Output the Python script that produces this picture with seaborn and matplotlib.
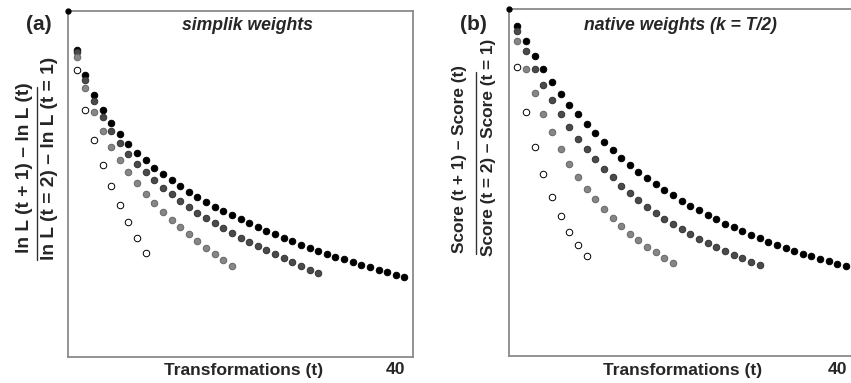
import numpy as np
import pandas as pd
import matplotlib
matplotlib.use("Agg")
import matplotlib.pyplot as plt
import seaborn as sns
from matplotlib.lines import Line2D

# runs of T transformations, one point per step t = 1 .. T-1
runs = [40, 30, 20, 10]
face = {40: "#000000", 30: "#4a4a4a", 20: "#868686", 10: "#ffffff"}
edge = {40: "#000000", 30: "#333333", 20: "#666666", 10: "#000000"}

# (a) simplik weights, relative step in ln L
simplik_40 = [0.888, 0.814, 0.758, 0.714, 0.677, 0.644, 0.616, 0.590, 0.568, 0.547,
              0.528, 0.511, 0.493, 0.477, 0.462, 0.448, 0.434, 0.422, 0.410, 0.398,
              0.386, 0.375, 0.364, 0.355, 0.344, 0.334, 0.325, 0.316, 0.307, 0.299,
              0.290, 0.282, 0.275, 0.267, 0.259, 0.252, 0.246, 0.238, 0.230]
simplik_30 = [0.881, 0.800, 0.740, 0.693, 0.652, 0.618, 0.587, 0.559, 0.534, 0.512,
              0.489, 0.470, 0.451, 0.434, 0.417, 0.402, 0.386, 0.372, 0.358, 0.344,
              0.332, 0.320, 0.308, 0.297, 0.285, 0.275, 0.263, 0.252, 0.242]
simplik_20 = [0.866, 0.777, 0.709, 0.654, 0.608, 0.569, 0.534, 0.502, 0.472, 0.446,
              0.420, 0.397, 0.375, 0.355, 0.334, 0.316, 0.298, 0.280, 0.262]
simplik_10 = [0.830, 0.715, 0.627, 0.555, 0.493, 0.438, 0.389, 0.343, 0.301]

# (b) native weights (k = T/2), relative step in score
native_40 = [0.951, 0.908, 0.865, 0.829, 0.790, 0.756, 0.725, 0.697, 0.669, 0.643,
             0.617, 0.594, 0.571, 0.551, 0.532, 0.514, 0.496, 0.479, 0.463, 0.448,
             0.433, 0.420, 0.406, 0.394, 0.382, 0.371, 0.360, 0.349, 0.339, 0.330,
             0.320, 0.311, 0.303, 0.295, 0.287, 0.280, 0.273, 0.266, 0.259]
native_30 = [0.937, 0.881, 0.829, 0.781, 0.737, 0.697, 0.661, 0.627, 0.596, 0.567,
             0.540, 0.515, 0.491, 0.469, 0.449, 0.429, 0.412, 0.396, 0.380, 0.365,
             0.351, 0.337, 0.325, 0.313, 0.303, 0.292, 0.282, 0.272, 0.262]
native_20 = [0.909, 0.829, 0.760, 0.698, 0.645, 0.597, 0.555, 0.516, 0.482, 0.452,
             0.424, 0.398, 0.375, 0.352, 0.334, 0.315, 0.299, 0.283, 0.269]
native_10 = [0.833, 0.703, 0.603, 0.524, 0.458, 0.403, 0.357, 0.320, 0.289]

W, H = 851, 383
sns.set_style("white")
plt.rcParams["font.family"] = ["Liberation Sans", "DejaVu Sans"]
plt.rcParams["font.weight"] = "bold"

fig = plt.figure(figsize=(W / 100, H / 100), dpi=100)


def px(x, y):
    return x / W, 1 - y / H


def draw_panel(ax, series):
    for T, vals in zip(runs, series):
        df = pd.DataFrame({"t": np.arange(1, T), "ratio": vals})
        sns.scatterplot(data=df, x="t", y="ratio", ax=ax, s=22,
                        color=face[T], edgecolor=edge[T], linewidth=0.7,
                        legend=False, zorder=3)
    ax.set_xlim(0, 40)
    ax.set_ylim(0, 1)
    ax.set_xticks([])
    ax.set_yticks([])
    ax.set_xlabel("")
    ax.set_ylabel("")
    for s in ax.spines.values():
        s.set_color("#8a8a8a")
        s.set_linewidth(1.3)
    # little dot at the top-left corner of the frame
    ax.plot([ax.get_xlim()[0]], [ax.get_ylim()[1]], "o", color="black",
            ms=3.5, clip_on=False, zorder=5)


ax1 = fig.add_axes([68 / W, 1 - 357 / H, 345 / W, 346 / H])
draw_panel(ax1, [simplik_40, simplik_30, simplik_20, simplik_10])
ax2 = fig.add_axes([508.7 / W, 1 - 356 / H, 346 / W, 346.7 / H])
draw_panel(ax2, [native_40, native_30, native_20, native_10])

# panel titles
fig.text(*px(247, 26), "simplik weights", ha="center", va="center",
         fontsize=12.7, fontweight="bold", style="italic")
fig.text(*px(680, 25), "native weights (k = T/2)", ha="center", va="center",
         fontsize=12.7, fontweight="bold", style="italic")

# x labels and the "40" marks
for cx, nx in [(243.5, 396), (683, 838)]:
    fig.text(*px(cx, 370), "Transformations (t)", ha="center", va="center",
             fontsize=12.6, fontweight="bold")
    fig.text(*px(nx, 370), "40", ha="center", va="center",
             fontsize=12.6, fontweight="bold")

# panel letters
fig.text(*px(39, 25), "(a)", ha="center", va="center", fontsize=15, fontweight="bold")
fig.text(*px(473, 24), "(b)", ha="center", va="center", fontsize=15, fontweight="bold")

# y labels drawn as a fraction
fig.text(*px(25, 168), "ln L (t + 1) – ln L (t)", rotation=90, ha="center",
         va="center", fontsize=13.8, fontweight="bold")
fig.text(*px(50, 158), "ln L (t = 2) – ln L (t = 1)", rotation=90, ha="center",
         va="center", fontsize=13.8, fontweight="bold")
fig.add_artist(Line2D([37 / W, 37 / W], [1 - 260 / H, 1 - 87 / H],
                      color="#333333", lw=1.0))

fig.text(*px(459.5, 159), "Score (t + 1) – Score (t)", rotation=90, ha="center",
         va="center", fontsize=12.4, fontweight="bold")
fig.text(*px(488, 147), "Score (t = 2) – Score (t = 1)", rotation=90, ha="center",
         va="center", fontsize=12.4, fontweight="bold")
fig.add_artist(Line2D([475.5 / W, 475.5 / W], [1 - 254 / H, 1 - 72 / H],
                      color="#333333", lw=1.0))

fig.savefig("out.png", dpi=100)
